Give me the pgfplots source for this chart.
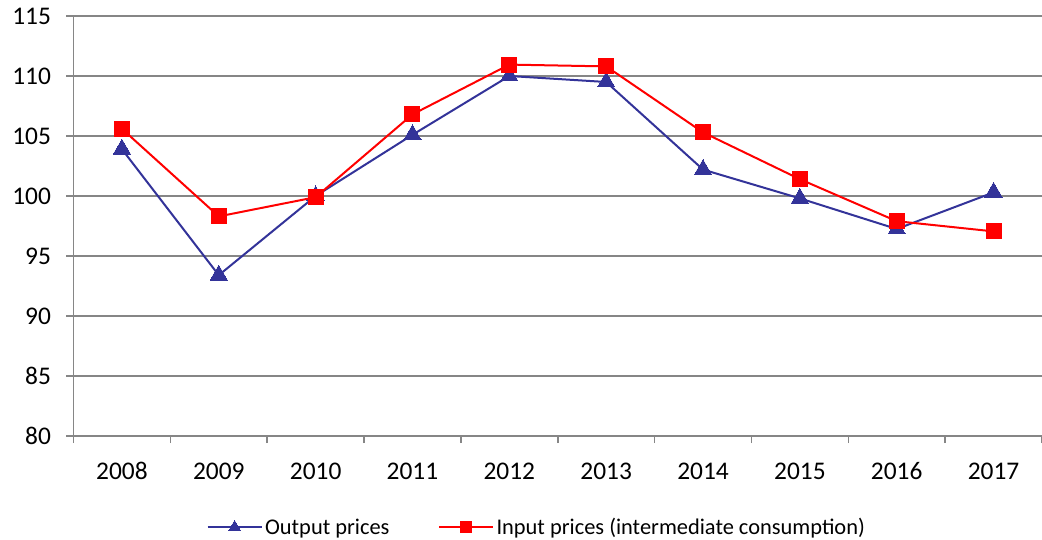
\documentclass[border=0pt]{standalone}
\usepackage{pgfplots}
\pgfplotsset{compat=1.18}
\usepackage{fontspec}
\setmainfont{Carlito}
\definecolor{outblue}{HTML}{333399}
\definecolor{inred}{HTML}{FF0000}
\definecolor{gridgray}{HTML}{868686}
\begin{document}
\begin{tikzpicture}
\path[use as bounding box] (-73.5bp,-104bp) rectangle (968.5bp,436bp);
\begin{axis}[
  at={(0,0)}, anchor=south west,
  scale only axis,
  width=968.5bp, height=420bp,
  xmin=-0.5, xmax=9.5,
  ymin=80, ymax=115,
  ytick={80,85,...,115},
  xtick={-0.5,0.5,...,9.5},
  xticklabels={2008,2009,2010,2011,2012,2013,2014,2015,2016,2017},
  x tick label as interval=true,
  axis lines=left,
  axis line style={-, gridgray, line width=1.5bp},
  tick style={gridgray, line width=1.5bp},
  tick align=outside,
  major tick length=7bp,
  ymajorgrids=true,
  xmajorgrids=false,
  grid style={gridgray, line width=1.5bp},
  /pgf/number format/assume math mode=true,
  ticklabel style={font=\fontsize{25.5}{30}\selectfont},
  yticklabel style={xshift=-12bp},
  xticklabel style={yshift=-16bp},
  clip=false,
  legend columns=2,
  legend style={at={(rel axis cs:0.4786,-0.2177)}, anchor=center, draw=none, fill=none,
    font=\fontsize{22.5}{27}\selectfont,
    nodes={inner xsep=2.5bp},
    /tikz/every even column/.append style={column sep=46bp}},
  legend image code/.code={\draw[mark repeat=2,mark phase=2] plot coordinates {(0bp,0bp)(27bp,0bp)(54bp,0bp)};},
]
\addplot[outblue, line width=2bp, mark=triangle*, mark size=10bp, mark options={fill=outblue, draw=outblue, line width=0pt}, forget plot]
  coordinates {(0,103.9) (1,93.4) (2,100.0) (3,105.1) (4,110.0) (5,109.5) (6,102.2) (7,99.8) (8,97.25) (9,100.3)};
\addplot[inred, line width=2bp, mark=square*, mark size=7.5bp, mark options={fill=inred, draw=inred, line width=0pt}, forget plot]
  coordinates {(0,105.6) (1,98.3) (2,99.9) (3,106.8) (4,110.95) (5,110.8) (6,105.3) (7,101.4) (8,97.9) (9,97.05)};
\addlegendimage{outblue, line width=2bp, mark=triangle*, mark size=7bp, mark options={fill=outblue, draw=outblue, line width=0pt}}
\addlegendentry{Output prices}
\addlegendimage{inred, line width=2bp, mark=square*, mark size=5.5bp, mark options={fill=inred, draw=inred, line width=0pt}}
\addlegendentry{Input prices (intermediate consumption)}
\end{axis}
\end{tikzpicture}
\end{document}
